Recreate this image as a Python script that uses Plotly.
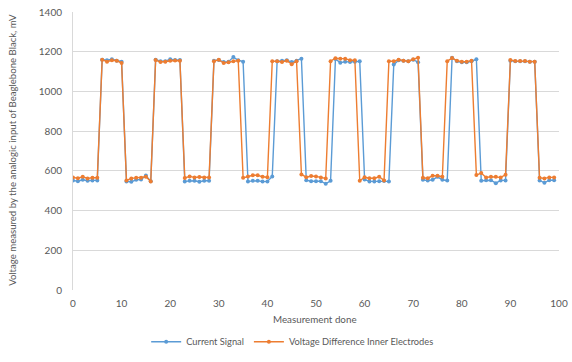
import plotly.graph_objects as go

x_values = list(range(100))

current_signal = [
    552, 548, 555, 550, 552, 552,
    1160, 1157, 1162, 1155, 1150,
    547, 545, 555, 556, 576, 548,
    1160, 1152, 1152, 1162, 1158, 1158,
    547, 550, 550, 545, 550, 550,
    1155, 1158, 1148, 1150, 1173, 1157, 1150,
    547, 550, 550, 546, 547, 572,
    1152, 1155, 1157, 1148, 1155, 1165,
    553, 548, 548, 548, 535, 550,
    1163, 1145, 1150, 1148, 1150, 1152,
    556, 547, 547, 548, 549, 547,
    1135, 1157, 1155, 1152, 1160, 1147,
    555, 551, 555, 570, 555, 551,
    1170, 1152, 1147, 1147, 1152, 1162,
    550, 553, 553, 538, 552, 552,
    1155, 1152, 1152, 1152, 1150, 1150,
    552, 540, 553, 553,
]

voltage_difference = [
    567, 563, 570, 562, 565, 565,
    1160, 1150, 1157, 1155, 1143,
    552, 562, 565, 565, 570, 547,
    1158, 1148, 1150, 1155, 1156, 1154,
    564, 572, 567, 569, 567, 567,
    1152, 1160, 1143, 1147, 1152, 1155,
    565, 572, 578, 578, 570, 568,
    1152, 1152, 1148, 1155, 1137, 1152,
    582, 568, 574, 572, 566, 562,
    1152, 1167, 1165, 1165, 1157, 1157,
    550, 568, 563, 563, 570, 552,
    1152, 1152, 1160, 1155, 1152, 1162, 1170,
    565, 563, 575, 575, 570,
    1152, 1168, 1155, 1150, 1150, 1155,
    579, 589, 567, 570, 570, 567, 580,
    1158, 1153, 1153, 1153, 1150, 1150,
    565, 562, 567, 567,
]

series_names = ["Current Signal", "Voltage Difference Inner Electrodes"]
series_colors = ["#5B9BD5", "#ED7D31"]
x_ticks = list(range(0, 101, 10))
y_ticks = list(range(0, 1401, 200))

font_family = "Lato, 'Open Sans', sans-serif"
text_color = "#595959"

fig = go.Figure()
for name, vals, col in zip(series_names, [current_signal, voltage_difference], series_colors):
    fig.add_trace(go.Scatter(
        x=x_values, y=vals, name=name, mode="lines+markers",
        line=dict(color=col, width=1.4),
        marker=dict(color=col, size=4, symbol="circle"),
    ))

fig.update_layout(
    width=572, height=362,
    margin=dict(l=73, r=13, t=12, b=72, autoexpand=False),
    paper_bgcolor="white", plot_bgcolor="white",
    font=dict(family=font_family, size=10, color=text_color),
    showlegend=True,
    legend=dict(orientation="h", x=0.452, xanchor="center", y=-0.186, yanchor="middle",
                font=dict(size=9.3, color=text_color), itemwidth=30, tracegroupgap=0),
    annotations=[
        dict(text="Measurement done", x=0.497, xref="paper", y=-0.103, yref="paper",
             xanchor="center", yanchor="middle", showarrow=False,
             font=dict(size=9.8, color=text_color)),
        dict(text="Voltage measured by the analogic input of Beaglebone Black, mV",
             x=-0.125, xref="paper", y=0.505, yref="paper", textangle=-90,
             xanchor="center", yanchor="middle", showarrow=False,
             font=dict(size=9.6, color=text_color)),
    ],
)
fig.update_xaxes(range=[0, 100], tickvals=x_ticks, showgrid=False, zeroline=False,
                 showline=False, ticks="", tickfont=dict(size=10, color=text_color),
                 ticklabelstandoff=6)
fig.update_yaxes(range=[0, 1400], tickvals=y_ticks, showgrid=True, gridcolor="#D9D9D9",
                 gridwidth=1, zeroline=False, showline=True, linecolor="#D9D9D9",
                 ticks="", tickfont=dict(size=10, color=text_color), ticklabelstandoff=8)

fig.write_html("out.html")
